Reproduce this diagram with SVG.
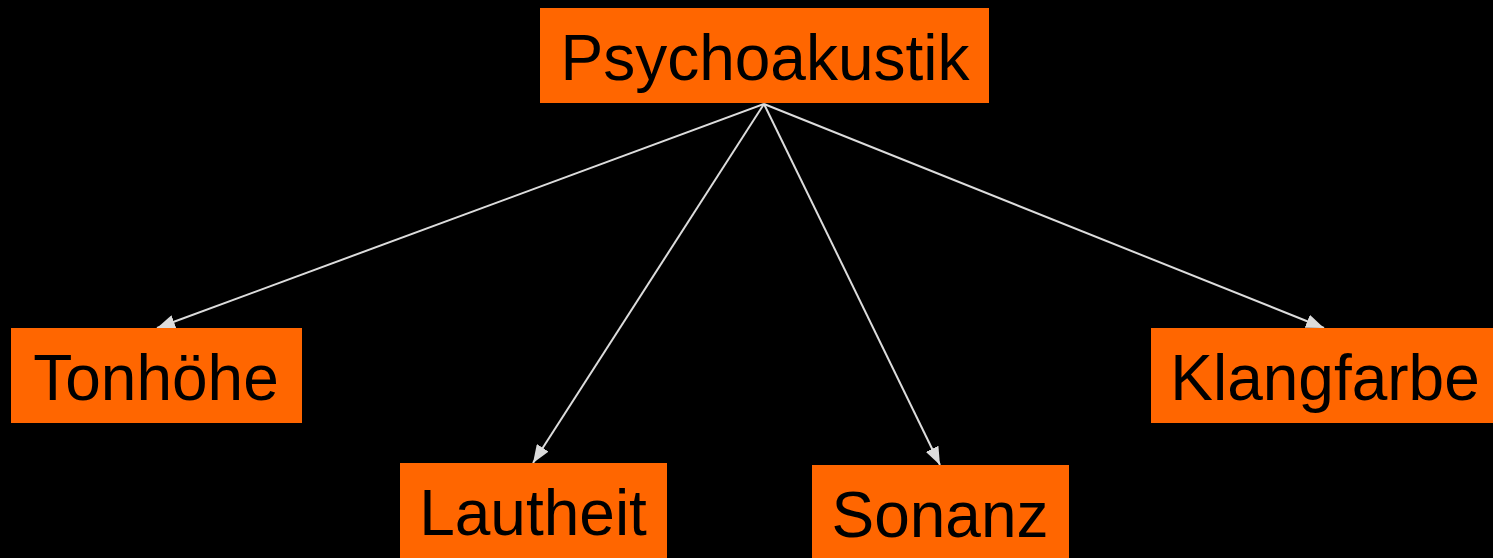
<svg xmlns="http://www.w3.org/2000/svg" width="1493" height="558" viewBox="0 0 1493 558">
<style>
.box{fill:#ff6600}
.lbl{font-family:"Liberation Sans",Arial,sans-serif;font-size:64px;fill:#000;text-anchor:middle}
.edge{stroke:#dcdcdc;stroke-width:2;fill:none;marker-end:url(#ah)}
</style>
<defs>
<marker id="ah" markerWidth="18" markerHeight="14" refX="18" refY="7" orient="auto" markerUnits="userSpaceOnUse">
<path d="M0,0 L18,7 L0,14 Z" fill="#dcdcdc"/>
</marker>
</defs>
<rect width="1493" height="558" fill="#000"/>
<g id="connectors">
<line class="edge" x1="764" y1="104" x2="157" y2="328"/>
<line class="edge" x1="764" y1="104" x2="533" y2="463"/>
<line class="edge" x1="764" y1="104" x2="940" y2="465"/>
<line class="edge" x1="764" y1="104" x2="1324" y2="328"/>
</g>
<g id="psychoakustik">
<rect class="box" x="540" y="8" width="449" height="95"/>
<text class="lbl" x="765" y="80">Psychoakustik</text>
</g>
<g id="tonhoehe">
<rect class="box" x="11" y="328" width="291" height="95"/>
<text class="lbl" x="156" y="400">Tonhöhe</text>
</g>
<g id="lautheit">
<rect class="box" x="400" y="463" width="267" height="95"/>
<text class="lbl" x="533" y="535">Lautheit</text>
</g>
<g id="sonanz">
<rect class="box" x="812" y="465" width="257" height="93"/>
<text class="lbl" x="940" y="537">Sonanz</text>
</g>
<g id="klangfarbe">
<rect class="box" x="1151" y="328" width="342" height="95"/>
<text class="lbl" x="1325" y="400">Klangfarbe</text>
</g>
</svg>
